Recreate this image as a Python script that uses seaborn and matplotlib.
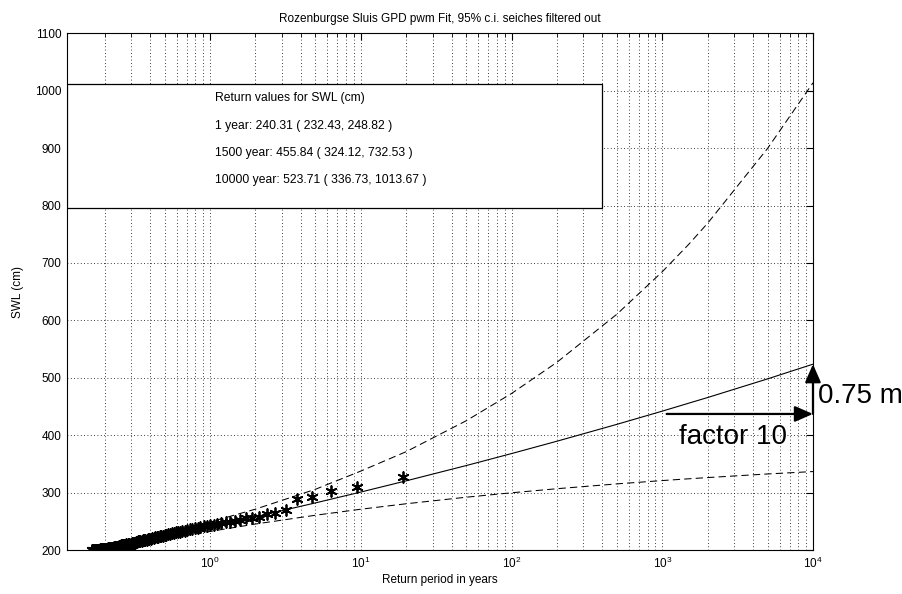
import numpy as np
import pandas as pd
import seaborn as sns
import matplotlib.pyplot as plt
from matplotlib.patches import Rectangle
from matplotlib.ticker import LogLocator, FixedLocator, NullFormatter

sns.set_style("white")
plt.rcParams['font.family'] = ['Liberation Sans', 'DejaVu Sans']
plt.rcParams['mathtext.default'] = 'regular'
plt.rcParams['text.color'] = 'k'
plt.rcParams['axes.labelcolor'] = 'k'

# empirical return periods (years) and observed SWL (cm)
obs_period = [19.0, 9.5, 6.33, 4.75, 3.8, 3.17, 2.71, 2.38, 2.11,
              1.9, 1.73, 1.58, 1.46, 1.36, 1.27, 1.19, 1.12, 1.06, 1.0,
              0.95, 0.905, 0.864, 0.826, 0.792, 0.76, 0.731, 0.704, 0.679, 0.655,
              0.633, 0.613, 0.594, 0.576, 0.559, 0.543, 0.528, 0.514, 0.5, 0.487,
              0.475, 0.463, 0.452, 0.442, 0.432, 0.422, 0.413, 0.404, 0.396, 0.388,
              0.38, 0.373, 0.365, 0.358, 0.352, 0.345, 0.339, 0.333, 0.328, 0.322,
              0.317, 0.311, 0.306, 0.302, 0.297, 0.292, 0.288, 0.284, 0.279, 0.275,
              0.271, 0.268, 0.264, 0.26, 0.257, 0.253, 0.25, 0.247, 0.244, 0.241,
              0.238, 0.235, 0.232, 0.229, 0.226, 0.224, 0.221, 0.218, 0.216, 0.213,
              0.211, 0.209, 0.207, 0.204, 0.202, 0.2, 0.198, 0.196, 0.194, 0.192,
              0.19, 0.188, 0.186, 0.184, 0.183, 0.181, 0.179, 0.178, 0.176, 0.174,
              0.173, 0.171, 0.17, 0.168, 0.167, 0.165, 0.164]
obs_swl = [328, 309, 303, 292, 289, 269, 264, 262, 258,
           256, 255, 252, 251, 249, 248, 247, 246, 244, 243,
           242, 242, 240, 239, 238, 237, 236, 235, 234, 233,
           232, 231, 231, 230, 229, 228, 228, 227, 226, 225,
           225, 224, 223, 223, 222, 221, 221, 220, 219, 219,
           218, 218, 217, 217, 216, 216, 215, 215, 214, 214,
           213, 213, 212, 212, 211, 211, 211, 210, 210, 209,
           209, 209, 208, 208, 208, 207, 207, 207, 206, 206,
           206, 205, 205, 205, 204, 204, 204, 204, 203, 203,
           203, 203, 202, 202, 202, 202, 201, 201, 201, 201,
           201, 201, 201, 200, 200, 200, 200, 200, 200, 200,
           200, 200, 200, 200, 200, 200, 200]

# fitted return level curve and 95% confidence bounds
fit_period = [0.2, 0.25, 0.4, 0.6, 1, 2, 5, 10, 20, 50, 100, 200, 500,
              1000, 1500, 2000, 5000, 10000]
fit_swl = [200.5, 206.5, 217.8, 227.6, 240.3, 257.9, 282.1, 301.0, 320.5,
           347.1, 368.0, 389.5, 418.9, 441.9, 455.8, 465.6, 498.1, 523.7]
upper_swl = [206.0, 212.0, 223.4, 234.1, 248.8, 271.2, 305.8, 337.5, 371.3,
             425.1, 472.6, 526.9, 610.7, 684.6, 732.5, 769.1, 899.5, 1013.7]
lower_swl = [199.0, 202.9, 213.5, 222.2, 232.4, 245.3, 260.6, 271.1, 280.6,
             292.0, 299.7, 306.8, 315.2, 321.0, 324.1, 326.2, 332.5, 336.7]

box_lines = ["Return values for SWL (cm)",
             "1 year: 240.31 ( 232.43, 248.82 )",
             "1500 year: 455.84 ( 324.12, 732.53 )",
             "10000 year: 523.71 ( 336.73, 1013.67 )"]

arrow_start = 1070
arrow_end = 10000
arrow_base = 437
arrow_top = 523.7

df_obs = pd.DataFrame({'period': obs_period, 'swl': obs_swl})
df_fit = pd.DataFrame({'period': fit_period, 'fit': fit_swl,
                       'upper': upper_swl, 'lower': lower_swl})

fig = plt.figure(figsize=(9.02, 5.94), dpi=100)
ax = fig.add_axes([0.0743, 0.074, 0.827, 0.870])
ax.set_xscale('log')

grid_kw = dict(color='k', linestyle=(0, (1, 3)), linewidth=0.6)
ax.grid(True, which='major', axis='both', **grid_kw)
ax.grid(True, which='minor', axis='x', **grid_kw)
ax.set_axisbelow(True)

dash = (0, (7, 4))
sns.lineplot(data=df_fit, x='period', y='upper', color='k', linewidth=0.75,
             linestyle=dash, ax=ax)
sns.lineplot(data=df_fit, x='period', y='lower', color='k', linewidth=0.75,
             linestyle=dash, ax=ax)
sns.lineplot(data=df_fit, x='period', y='fit', color='k', linewidth=0.8, ax=ax)
sns.scatterplot(data=df_obs, x='period', y='swl', marker=(6, 2, 0), color='k',
                s=60, linewidth=1.3, ax=ax, zorder=3)

ax.set_xlim(0.1125, 1e4)
ax.set_ylim(200, 1100)
ax.set_yticks(np.arange(200, 1101, 100))
ax.xaxis.set_major_locator(FixedLocator([1, 10, 100, 1000, 10000]))
ax.set_xticklabels([r'$10^{0}$', r'$10^{1}$', r'$10^{2}$', r'$10^{3}$', r'$10^{4}$'])
ax.xaxis.set_minor_locator(LogLocator(base=10, subs=np.arange(2, 10), numticks=20))
ax.xaxis.set_minor_formatter(NullFormatter())
ax.tick_params(which='both', direction='in', top=True, right=True,
               labelsize=8.5, colors='k', pad=4)
ax.tick_params(which='major', length=5, width=0.8)
ax.tick_params(which='minor', length=3, width=0.6)
for s in ax.spines.values():
    s.set_color('k')
    s.set_linewidth(0.8)

ax.set_title("Rozenburgse Sluis GPD pwm Fit, 95% c.i. seiches filtered out",
             fontsize=8.5, pad=8, color='k')
ax.set_xlabel("Return period in years", fontsize=8.5, labelpad=2)
ax.set_ylabel("SWL (cm)", fontsize=8.5, labelpad=8)

# text box with return values
ax.add_patch(Rectangle((0, 0.661), 0.7167, 0.2417, transform=ax.transAxes,
                       facecolor='white', edgecolor='k', linewidth=0.9, zorder=4))
for txt, yy in zip(box_lines, [0.875, 0.8207, 0.769, 0.717]):
    ax.text(0.198, yy, txt, transform=ax.transAxes, fontsize=8.7,
            va='center', ha='left', zorder=5, color='k')

# annotation arrows
astyle = dict(arrowstyle='-|>,head_length=0.55,head_width=0.24', color='k',
              lw=1.6, mutation_scale=20, shrinkA=0, shrinkB=0)
ax.annotate('', xy=(arrow_end, arrow_base), xytext=(arrow_start, arrow_base),
            arrowprops=astyle, annotation_clip=False, zorder=6)
ax.annotate('', xy=(arrow_end, arrow_top), xytext=(arrow_end, arrow_base),
            arrowprops=astyle, annotation_clip=False, zorder=6)
ax.text(1291, 397, "factor 10", fontsize=20, ha='left', va='center', zorder=6,
        color='k')
ax.text(10800, 468, "0.75 m", fontsize=20, ha='left', va='center',
        clip_on=False, zorder=6, color='k')

fig.savefig('out.png', dpi=100)
